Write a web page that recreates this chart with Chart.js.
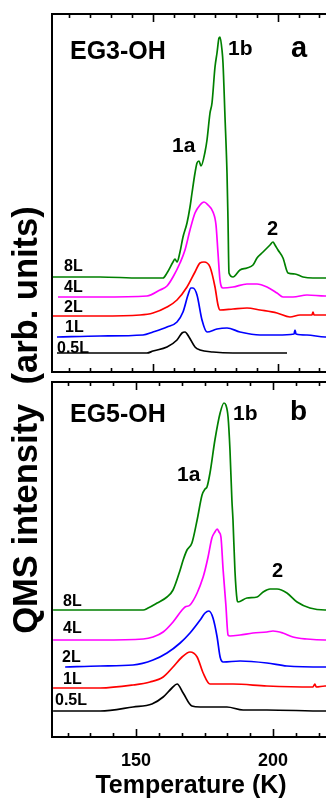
<!DOCTYPE html>
<html>
<head>
<meta charset="utf-8">
<script src="https://cdn.jsdelivr.net/npm/chart.js@4/dist/chart.umd.min.js"></script>
<style>
html,body{margin:0;padding:0;background:#fff;overflow:hidden;width:326px;height:798px;}
.wrap{position:absolute;left:0;top:0;width:330px;height:798px;}
canvas{position:absolute;left:0;top:0;}
</style>
</head>
<body>
<div class="wrap"><canvas id="ca" width="330" height="798"></canvas></div>
<div class="wrap"><canvas id="cb" width="330" height="798"></canvas></div>
<script>
// ---------- DATA (Temperature K, QMS intensity arb. units incl. offset) ----------
// Panel a: EG3-OH
const eg3_8L = [[110.1,95],[128.9,95],[144.9,94],[154.1,94],[155.7,99],[158.1,110],[158.9,113],[159.7,110],[160.9,120],[162.1,135],[163.7,149],[164.9,165],[165.7,179],[166.9,199],[167.7,209],[168.5,211],[169.3,206],[170.9,220],[171.7,232],[172.9,259],[173.7,269],[174.9,305],[175.7,319],[176.5,334],[176.9,335],[177.7,322],[178.1,309],[178.9,255],[179.7,199],[180.1,152],[180.5,99],[182.1,95],[184.9,102],[187.7,104],[190.1,107],[191.7,114],[194.1,120],[196.1,125],[196.9,127],[198.1,130],[198.9,127],[200.1,122],[202.1,114],[204.1,99],[206.9,98],[210.1,95],[214.1,94],[218.9,94],[221,94]];
const eg3_4L = [[112.1,75],[128.9,75],[147.7,76],[152.9,82],[155.7,86],[158.1,95],[160.9,109],[162.9,122],[164.9,142],[166.9,159],[168.9,167],[170.5,170],[172.1,167],[174.1,160],[175.3,147],[176.1,119],[176.9,92],[178.1,84],[182.1,85],[187.7,88],[191.7,88],[195.7,85],[199.7,79],[202.1,75],[206.1,75],[211.7,77],[218.9,76],[221,76]];
const eg3_2L = [[110.1,56],[128.9,56],[144.9,57],[150.1,59],[155.7,65],[159.7,72],[163.7,85],[166.9,100],[168.9,109],[170.5,110],[172.9,105],[174.9,85],[176.1,67],[176.9,62],[182.1,63],[187.7,64],[192.9,62],[199.7,59],[204.9,55],[208.9,57],[213.7,57],[214.1,60],[214.5,57],[218.9,57],[221,57]];
const eg3_1L = [[111.7,35],[128.9,36],[146.1,37],[150.1,40],[155.7,45],[159.7,50],[162.1,60],[164.1,77],[165.3,84],[166.1,84],[167.7,77],[169.7,52],[171.7,40],[175.7,43],[179.7,44],[184.9,40],[192.9,37],[199.7,37],[206.5,38],[206.9,42],[207.3,38],[211.7,37],[218.9,35],[221,35]];
const eg3_05L = [[111.7,19],[128.9,19],[147.7,19],[150.1,21],[155.7,25],[159.7,32],[161.7,39],[162.9,40],[164.5,35],[166.9,25],[168.9,22],[174.1,20],[182.1,19],[190.1,19],[203.7,19]];
// Panel b: EG5-OH
const eg5_8L = [[119.7,127],[136.9,127],[152.6,127],[154.4,129],[157.7,134],[161.3,140],[163.5,147],[166.1,167],[167.2,177],[168.6,187],[170.4,194],[172.3,217],[174.1,242],[175.2,248],[175.9,250],[177.0,264],[178.8,297],[180.7,324],[182.1,334],[182.8,332],[183.6,320],[184.3,287],[185.0,237],[185.4,217],[186.1,167],[186.9,137],[187.2,135],[190.5,139],[194.2,140],[196.4,145],[198.9,148],[201.5,148],[205.1,144],[208.8,135],[213.5,129],[219.0,127],[221,127]];
const eg5_4L = [[119.7,97],[136.9,97],[152.6,98],[156.2,100],[159.9,105],[163.5,115],[166.8,127],[167.9,130],[169.7,132],[172.3,144],[174.5,160],[175.2,167],[176.3,180],[177.7,199],[178.8,205],[179.6,208],[180.3,205],[181.0,200],[181.8,167],[182.8,132],[183.6,102],[184.3,101],[188.0,102],[192.7,104],[197.8,105],[200.0,106],[203.6,104],[207.3,100],[212.4,98],[219.0,97],[221,97]];
const eg5_2L = [[124.1,70],[136.9,71],[148.9,72],[156.2,77],[161.3,84],[166.1,94],[169.7,104],[173.4,117],[175.2,124],[176.6,126],[178.1,119],[179.6,100],[180.7,80],[181.8,75],[188.0,76],[197.8,74],[205.1,71],[219.0,70],[221,70]];
const eg5_1L = [[119.7,49],[136.9,49],[148.9,52],[155.1,55],[159.9,60],[163.5,70],[166.8,80],[169.7,85],[172.3,80],[174.5,64],[177.0,53],[185.4,53],[197.8,51],[214.6,50],[215.3,53],[215.8,50],[219.0,51],[221,51]];
const eg5_05L = [[119.7,26],[136.9,26],[148.9,30],[155.8,33],[159.9,40],[163.1,49],[165.0,53],[167.2,44],[170.4,31],[173.4,30],[183.2,30],[189.1,27],[197.8,27],[219.0,26],[221,26]];

const doseLabels = ['8L','4L','2L','1L','0.5L'];
const majorTicks = [150, 200];
const tickLabels = ['150', '200'];
const minorTicks = [116.67,125,133.33,141.67,158.33,166.67,175,183.33,191.67,208.33,216.67];

// ---------- STYLE ----------
const colors = ['#008000','#ff00ff','#ff0000','#0000ff','#000000'];
const colorsB = ['#008000','#ff00ff','#0000ff','#ff0000','#000000'];
const FONT = '"Liberation Sans", Arial, Helvetica, sans-serif';

function ds(arr, color){
  return {data: arr.map(p=>({x:p[0], y:p[1]})), borderColor: color, borderWidth: 1.7,
          pointRadius: 0, showLine: true, fill: false, cubicInterpolationMode: 'monotone'};
}

const framePlugin = {
  id: 'frame',
  afterDraw(chart, args, o){
    const {ctx, chartArea: ca, scales: {x}} = chart;
    ctx.save();
    ctx.strokeStyle = '#000';
    ctx.lineWidth = 2;
    ctx.beginPath();
    ctx.moveTo(ca.right + 10, ca.top); ctx.lineTo(ca.left, ca.top);
    ctx.lineTo(ca.left, ca.bottom); ctx.lineTo(ca.right + 10, ca.bottom);
    ctx.stroke();
    ctx.lineWidth = 1.6;
    const drawTick = (v, len) => {
      if (v < x.min || v > x.max) return;
      const px = Math.round(x.getPixelForValue(v)) + 0.5;
      ctx.beginPath();
      ctx.moveTo(px, ca.top); ctx.lineTo(px, ca.top + len);
      ctx.moveTo(px, ca.bottom); ctx.lineTo(px, ca.bottom - len);
      ctx.stroke();
    };
    minorTicks.forEach(v => drawTick(v, 4));
    majorTicks.forEach(v => drawTick(v, 8));
    ctx.fillStyle = '#000';
    ctx.textBaseline = 'alphabetic';
    ctx.textAlign = 'left';
    (o.texts || []).forEach(t => {
      ctx.font = 'bold ' + t.s + 'px ' + FONT;
      ctx.fillText(t.t, t.x, t.y);
    });
    if (o.xLabels) {
      ctx.textAlign = 'center';
      ctx.font = 'bold 18px ' + FONT;
      majorTicks.forEach((v, i) => ctx.fillText(tickLabels[i], x.getPixelForValue(v), 766));
      ctx.font = 'bold 25px ' + FONT;
      ctx.fillText('Temperature (K)', 191, 793);
    }
    if (o.yTitle) {
      ctx.save();
      ctx.translate(37, 420);
      ctx.rotate(-Math.PI / 2);
      ctx.textAlign = 'center';
      ctx.font = 'bold 34.5px ' + FONT;
      ctx.fillText('QMS intensity  (arb. units)', 0, 0);
      ctx.restore();
    }
    ctx.restore();
  }
};

function makeChart(id, sets, cols, xmin, xmax, ymax, padTop, padBottom, po){
  return new Chart(document.getElementById(id), {
    type: 'scatter',
    data: {datasets: sets.map((s, i) => ds(s, cols[i]))},
    options: {
      responsive: false, animation: false,
      layout: {padding: {left: 52, right: 2, top: padTop, bottom: padBottom}},
      scales: {
        x: {type: 'linear', min: xmin, max: xmax, display: false},
        y: {type: 'linear', min: 0, max: ymax, display: false}
      },
      plugins: {legend: {display: false}, tooltip: {enabled: false}, frame: po}
    },
    plugins: [framePlugin]
  });
}

const textsA = [
  {t:'EG3-OH', x:70, y:59, s:25}, {t:'1b', x:228, y:55, s:21}, {t:'a', x:291, y:57, s:29},
  {t:'1a', x:172, y:152, s:21}, {t:'2', x:267, y:235, s:20},
  {t:doseLabels[0], x:64, y:271, s:16}, {t:doseLabels[1], x:64, y:292, s:16},
  {t:doseLabels[2], x:64, y:312, s:16}, {t:doseLabels[3], x:65, y:332, s:16},
  {t:doseLabels[4], x:57, y:353, s:16}
];
const textsB = [
  {t:'EG5-OH', x:70, y:422, s:25}, {t:'1b', x:233, y:420, s:21}, {t:'b', x:290, y:420, s:28},
  {t:'1a', x:177, y:481, s:21}, {t:'2', x:272, y:577, s:20},
  {t:doseLabels[0], x:63, y:606, s:16}, {t:doseLabels[1], x:63, y:633, s:16},
  {t:'2L', x:62, y:662, s:16}, {t:'1L', x:63, y:684, s:16},
  {t:doseLabels[4], x:55, y:705, s:16}
];

makeChart('ca', [eg3_8L, eg3_4L, eg3_2L, eg3_1L, eg3_05L], colors, 109.7, 220.1, 358, 14, 426, {texts: textsA});
makeChart('cb', [eg5_8L, eg5_4L, eg5_2L, eg5_1L, eg5_05L], colorsB, 119.3, 220.1, 355, 382, 61, {texts: textsB, xLabels: true, yTitle: true});
</script>
</body>
</html>
